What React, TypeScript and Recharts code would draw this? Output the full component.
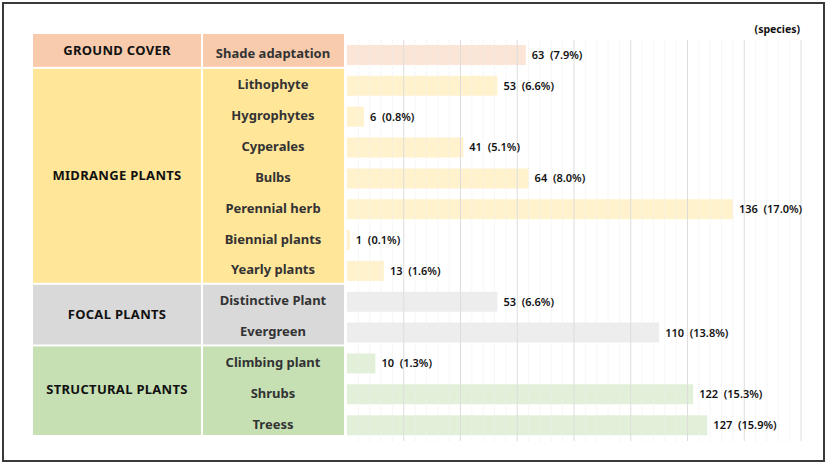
import React from 'react';
import { BarChart, Bar, XAxis, YAxis, Cell, LabelList, ReferenceLine } from 'recharts';

const categories = [
    'Shade adaptation', 'Lithophyte', 'Hygrophytes', 'Cyperales', 'Bulbs', 'Perennial herb',
    'Biennial plants', 'Yearly plants', 'Distinctive Plant', 'Evergreen', 'Climbing plant', 'Shrubs', 'Treess',
];
const species = [63, 53, 6, 41, 64, 136, 1, 13, 53, 110, 10, 122, 127];
const shares = ['7.9', '6.6', '0.8', '5.1', '8.0', '17.0', '0.1', '1.6', '6.6', '13.8', '1.3', '15.3', '15.9'];

const groupNames = ['GROUND COVER', 'MIDRANGE PLANTS', 'FOCAL PLANTS', 'STRUCTURAL PLANTS'];
const groupSizes = [1, 7, 2, 3];
const cellColors = ['#F8CBAD', '#FFE699', '#D9D9D9', '#C6E0B4'];
const barColors = ['#FBE5D6', '#FFF2CC', '#EDEDED', '#E2F0D9'];

const majorTicks = [0, 20, 40, 60, 80, 100, 120, 140, 160];
const minorTicks = [4, 8, 12, 16, 24, 28, 32, 36, 44, 48, 52, 56, 64, 68, 72, 76, 84, 88, 92, 96, 104, 108, 112, 116, 124, 128, 132, 136, 144, 148, 152, 156];

const W = 827;
const H = 464;
const MARGIN = { top: 40, right: 26, bottom: 23, left: 33 };
const Y_WIDTH = 314;
const PLOT_H = H - MARGIN.top - MARGIN.bottom;
const FONT = '"Noto Sans", sans-serif';

// group index of each row
const rowGroup: number[] = [];
groupSizes.forEach((n, g) => { for (let i = 0; i < n; i++) rowGroup.push(g); });
const groupStart = groupSizes.map((_, g) => groupSizes.slice(0, g).reduce((a, b) => a + b, 0));

const data = categories.map((name, i) => ({
    name,
    value: species[i],
    label: `${species[i]}\u00A0\u00A0(${shares[i]}%)`,
}));

const TableTick = (props: any) => {
    const { y, payload } = props;
    const i = categories.indexOf(payload.value);
    const g = rowGroup[i];
    const band = PLOT_H / categories.length;
    const first = groupStart[g] === i;
    const out: React.ReactNode[] = [];
    if (first) {
        const n = groupSizes[g];
        const top0 = y - band / 2;
        let top = top0 - 3;
        let bottom = top0 + n * band - 3;
        if (g === 0) top = top0 - 6;
        if (g === groupSizes.length - 1) bottom = top0 + n * band - 6;
        const gapTop = g === 0 ? 0 : 1;
        const gapBot = g === groupSizes.length - 1 ? 0 : 1;
        out.push(
            <rect key="c1" x={33} y={top + gapTop} width={168} height={bottom - top - gapTop - gapBot} fill={cellColors[g]} />,
            <rect key="c2" x={203} y={top + gapTop} width={141} height={bottom - top - gapTop - gapBot} fill={cellColors[g]} />,
            <text key="g" x={117} y={(top + bottom) / 2 - 1} textAnchor="middle" dominantBaseline="central"
                fontFamily={FONT} fontSize={13} fontWeight={700} fill="#111" letterSpacing={0.3}>{groupNames[g]}</text>
        );
    }
    out.push(
        <text key="t" x={273} y={y - 2} textAnchor="middle" dominantBaseline="central"
            fontFamily={FONT} fontSize={13} fontWeight={700} fill="#333">{payload.value}</text>
    );
    return <g>{out}</g>;
};

export default function App() {
    return (
        <div style={{ position: 'absolute', left: 0, top: 0, width: W, height: H, background: '#fff' }}>
            <div style={{ position: 'absolute', left: 2, top: 2, width: 819, height: 456, border: '2px solid #3a3a3a' }} />
            <BarChart width={W} height={H} data={data} layout="vertical" margin={MARGIN} barSize={20}>
                <XAxis type="number" domain={[0, 160]} ticks={majorTicks} hide />
                <YAxis type="category" dataKey="name" width={Y_WIDTH} axisLine={false} tickLine={false}
                    interval={0} tick={(p: any) => <TableTick {...p} />} />
                {minorTicks.map(v => (
                    <ReferenceLine key={`m${v}`} x={v} stroke="#EEEEEE" strokeDasharray="1 1" />
                ))}
                {majorTicks.slice(1).map(v => (
                    <ReferenceLine key={`M${v}`} x={v} stroke="#DDDDDD" />
                ))}
                <Bar dataKey="value" isAnimationActive={false}>
                    {data.map((_, i) => <Cell key={i} fill={barColors[rowGroup[i]]} />)}
                    <LabelList dataKey="label" position="right" offset={6}
                        style={{ fontFamily: FONT, fontSize: 11, fontWeight: 600, fill: '#111' }} />
                </Bar>
                <text x={800} y={33} textAnchor="end" fontFamily={FONT} fontSize={10.5} fontWeight={700} fill="#111">(species)</text>
            </BarChart>
        </div>
    );
}
